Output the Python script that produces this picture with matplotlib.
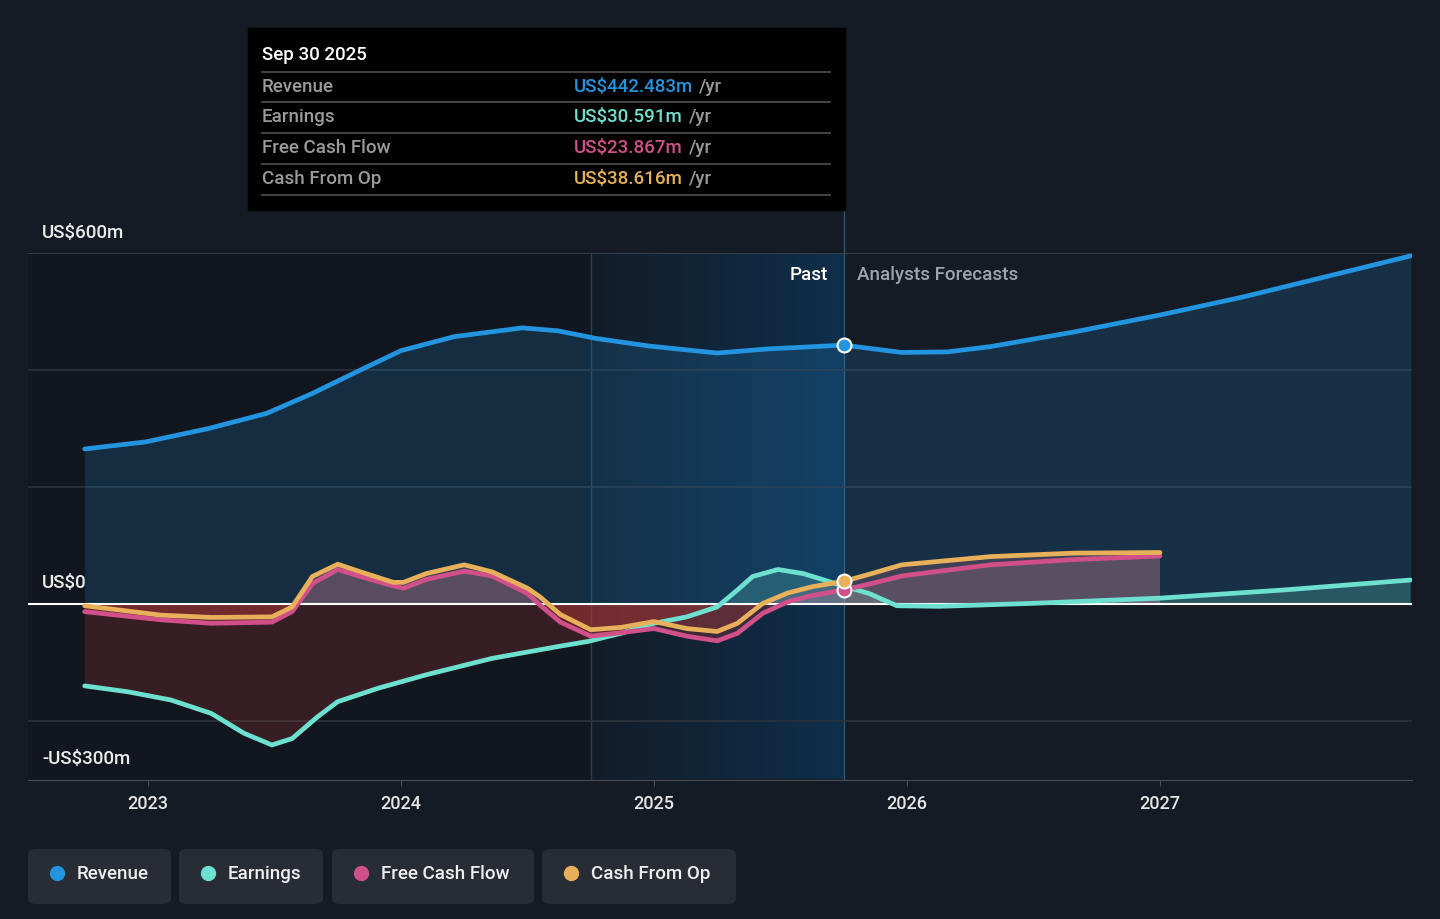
import numpy as np
import matplotlib
matplotlib.use("Agg")
import matplotlib.pyplot as plt
from matplotlib.patches import Rectangle, FancyBboxPatch
from matplotlib.colors import LinearSegmentedColormap

plt.rcParams["font.family"] = ["Roboto", "DejaVu Sans"]

# Datos (US$ millones, años decimales)
rev_x = [2022.75, 2022.99, 2023.24, 2023.47, 2023.65, 2023.84, 2024.0,
         2024.21, 2024.48, 2024.62, 2024.77, 2024.98, 2025.25, 2025.45,
         2025.75, 2025.98, 2026.16, 2026.33, 2026.66, 2027.0, 2027.33,
         2027.66, 2027.99]
rev_y = [265, 277, 300, 326, 360, 400, 433, 457, 472, 467, 454, 441, 429,
         436, 442.5, 430, 431, 440, 465, 494, 525, 560, 595]

earn_x = [2022.75, 2022.92, 2023.09, 2023.25, 2023.38, 2023.49, 2023.57,
          2023.67, 2023.75, 2023.91, 2024.10, 2024.36, 2024.63, 2024.74,
          2024.87, 2025.0, 2025.13, 2025.25, 2025.33, 2025.39, 2025.49,
          2025.59, 2025.75, 2025.85, 2025.96, 2026.13, 2026.49, 2027.0,
          2027.49, 2027.99]
earn_y = [-140, -150, -164, -187, -221, -241, -230, -193, -167, -144, -121,
          -93, -72, -64, -50, -33, -22, -5, 24, 47, 59, 52, 30.6, 18, -3, -4,
          1, 10, 24, 41]

cash_x = [2022.75, 2023.05, 2023.25, 2023.49, 2023.57, 2023.65, 2023.75,
          2023.84, 2023.97, 2024.01, 2024.10, 2024.25, 2024.36, 2024.50,
          2024.55, 2024.63, 2024.75, 2024.87, 2025.0, 2025.13, 2025.25,
          2025.33, 2025.43, 2025.53, 2025.63, 2025.75, 2025.86, 2025.98,
          2026.33, 2026.66, 2027.0]
fcf_y = [-13, -27, -33, -31, -13, 35, 59, 47, 31, 27, 42, 56, 48, 18, -2,
         -31, -55, -49, -42, -55, -63, -50, -16, 4, 15, 23.9, 35, 48, 67, 76,
         82]
cfo_y = [-3, -19, -23, -22, -5, 47, 68, 55, 37, 37, 52, 67, 55, 27, 12, -18,
         -44, -40, -30, -42, -47, -33, 1, 19, 30, 38.6, 52, 67, 81, 87, 88]

series = [
    ("Revenue", rev_x, rev_y, "#2394df"),
    ("Earnings", earn_x, earn_y, "#6de0cf"),
    ("Free Cash Flow", cash_x, fcf_y, "#d2508a"),
    ("Cash From Op", cash_x, cfo_y, "#e8b05a"),
]
ticks = [2023, 2024, 2025, 2026, 2027]
hoy = 2025.75

W, H = 1440, 919
bg = "#151b24"
fig = plt.figure(figsize=(W / 100, H / 100), dpi=100, facecolor=bg)


def fx(x):
    return x / W


def fy(y):
    return 1 - y / H


ax = fig.add_axes([fx(28), fy(779.5), fx(1412) - fx(28), fy(253) - fy(779.5)])
ax.set_facecolor(bg)
ax.set_xlim(2022.526, 2027.996)
ax.set_ylim(-300, 600)

# Fondos: zona antigua más oscura, zona "Past" con degradado azul
ax.axvspan(2022.526, 2024.75, color="#0d1117", alpha=0.35, lw=0, zorder=0)
grad = np.linspace(0, 1, 256).reshape(1, -1)
cmap = LinearSegmentedColormap.from_list("past", ["#131c27", "#0f2f4c"])
ax.imshow(grad, extent=[2024.75, hoy, -300, 600], aspect="auto", cmap=cmap,
          zorder=0.5)
ax.axvline(2024.75, color="#25405a", lw=1, zorder=1)
ax.plot([hoy, hoy], [-300, 675], color="#2a5478", lw=1, zorder=1,
        clip_on=False)

for v in [400, 200, -200]:
    ax.axhline(v, color="#2c333d", lw=1.2, zorder=1)
ax.axhline(600, color="#3d444e", lw=1.2, zorder=1)

# Rellenos
rx, ry = np.array(rev_x), np.array(rev_y)
ax.fill_between(rx, ry, 0, color="#2394df", alpha=0.18, lw=0, zorder=2)
ex, ey = np.array(earn_x), np.array(earn_y)
ax.fill_between(ex, ey, 0, where=ey <= 0, interpolate=True, color="#b83a3a",
                alpha=0.22, lw=0, zorder=2)
ax.fill_between(ex, ey, 0, where=ey >= 0, interpolate=True, color="#6de0cf",
                alpha=0.22, lw=0, zorder=2)
cx = np.array(cash_x)
for yy in [fcf_y, cfo_y]:
    yy = np.array(yy)
    ax.fill_between(cx, yy, 0, where=yy <= 0, interpolate=True,
                    color="#c23a3a", alpha=0.25, lw=0, zorder=2)
    ax.fill_between(cx, yy, 0, where=yy >= 0, interpolate=True,
                    color="#d28a9a", alpha=0.2, lw=0, zorder=2)

ax.axhline(0, color="#ffffff", lw=1.5, zorder=3)

for name, xs, ys, col in series:
    ax.plot(xs, ys, color=col, lw=3.4, zorder=4, solid_capstyle="round",
            solid_joinstyle="round")

# Marcadores en la fecha actual
for xs, ys, col in [(cash_x, fcf_y, "#d2508a"), (cash_x, cfo_y, "#e8b05a"),
                    (rev_x, rev_y, "#2394df")]:
    val = ys[xs.index(hoy)]
    ax.plot([hoy], [val], "o", ms=10, color=col, mec="white", mew=1.5,
            zorder=6)

for s in ax.spines.values():
    s.set_visible(False)
ax.spines["bottom"].set_visible(True)
ax.spines["bottom"].set_color("#4a505a")
ax.set_yticks([])
ax.set_xticks(ticks)
ax.set_xticklabels([str(t) for t in ticks], color="#e6e6e6", fontsize=13,
                   fontweight="medium")
ax.tick_params(axis="x", length=4, color="#4a505a", pad=7)

# Etiquetas eje y
for txt, y in [("US$600m", 233), ("US$0", 583), ("-US$300m", 759)]:
    fig.text(fx(42), fy(y), txt, color="#ececec", fontsize=13.5,
             fontweight="medium", va="center")

fig.text(fx(828), fy(275), "Past", color="#ffffff", fontsize=13.5,
         fontweight="medium", ha="right", va="center")
fig.text(fx(857), fy(275), "Analysts Forecasts", color="#a0a4aa",
         fontsize=13.5, fontweight="medium", ha="left", va="center")

# Tooltip
fig.patches.append(Rectangle((fx(248), fy(210)), fx(845) - fx(248),
                             fy(28) - fy(210), transform=fig.transFigure,
                             color="#000000", zorder=10))
fig.text(fx(262), fy(55), "Sep 30 2025", color="#ffffff", fontsize=13.5,
         fontweight="medium", va="center", zorder=11)
rows = [("Revenue", "US$442.483m", "#2394df"),
        ("Earnings", "US$30.591m", "#6de0cf"),
        ("Free Cash Flow", "US$23.867m", "#d2508a"),
        ("Cash From Op", "US$38.616m", "#e8b05a")]
for yl in [72, 102, 133, 164, 195]:
    fig.add_artist(plt.Line2D([fx(262), fx(830)], [fy(yl), fy(yl)],
                              color="#4a4a4a", lw=1.3, zorder=11))
for i, (lab, val, col) in enumerate(rows):
    y = 87 + i * 30.5
    fig.text(fx(262), fy(y), lab, color="#9a9a9a", fontsize=13.5,
             fontweight="medium", va="center", zorder=11)
    t = fig.text(fx(574), fy(y), val, color=col, fontsize=13.5,
                 fontweight="medium", va="center", zorder=11)
    fig.canvas.draw()
    bb = t.get_window_extent()
    fig.text(bb.x1 / W + fx(6), fy(y), "/yr", color="#9a9a9a",
             fontsize=13.5, fontweight="medium", va="center", zorder=11)

# Leyenda
boxes = [(28, 171), (179, 323), (332, 534), (542, 736)]
for (x0, x1), (name, xs, ys, col) in zip(boxes, series):
    fig.patches.append(FancyBboxPatch((fx(x0), fy(904)), fx(x1 - x0),
                                      fy(849) - fy(904),
                                      boxstyle="round,pad=0,rounding_size=0.006",
                                      transform=fig.transFigure,
                                      color="#272c35", lw=0))
    fig.add_artist(plt.Line2D([fx(x0 + 29)], [fy(873)], marker="o", ms=10,
                              color=col, lw=0))
    fig.text(fx(x0 + 49), fy(874), name, color="#f0f0f0", fontsize=13.5,
             fontweight="medium", va="center")

fig.savefig("out.png", dpi=100, facecolor=bg)
